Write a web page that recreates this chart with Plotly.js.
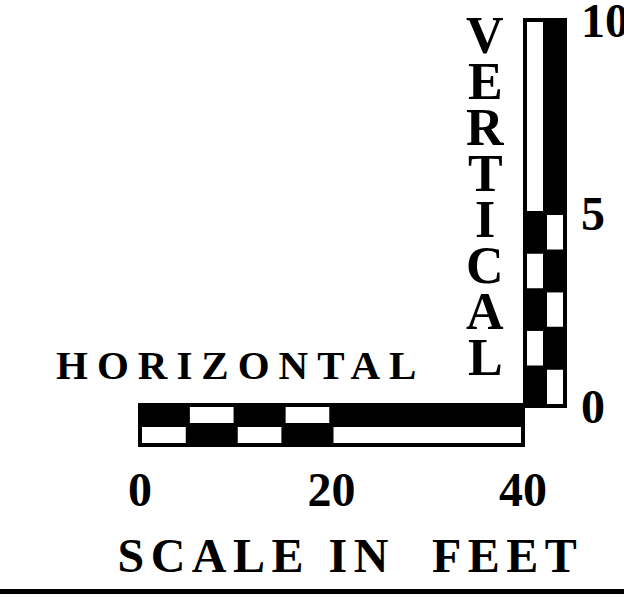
<!DOCTYPE html>
<html>
<head>
<meta charset="utf-8">
<script src="https://cdn.plot.ly/plotly-3.0.1.min.js"></script>
<style>
  html, body { margin: 0; padding: 0; background: #ffffff; }
  #chart { width: 624px; height: 600px; }
</style>
</head>
<body>
<div id="chart"></div>
<script>
// ---- Data ----
// Horizontal scale (feet)
const hStarts = [0, 5, 10, 15, 20];
const hEnds = [5, 10, 15, 20, 40];
const hTopColors = ['black', 'white', 'black', 'white', 'black'];
const hBottomColors = ['white', 'black', 'white', 'black', 'white'];
const hTickVals = [0, 20, 40];
const hTickText = ['0', '20', '40'];

// Vertical scale (feet)
const vStarts = [0, 1, 2, 3, 4, 5];
const vEnds = [1, 2, 3, 4, 5, 10];
const vLeftColors = ['black', 'white', 'black', 'white', 'black', 'white'];
const vRightColors = ['white', 'black', 'white', 'black', 'white', 'black'];
const vTickVals = [0, 5, 10];
const vTickText = ['0', '5', '10'];

// Texts
const horizontalLabel = 'HORIZONTAL';
const verticalLetters = ['V', 'E', 'R', 'T', 'I', 'C', 'A', 'L'];
const scaleTitle = 'SCALE IN\u00A0\u00A0FEET';

// ---- Layout helpers ----
const W = 624, H = 600;
const px = x => x / W;
const py = y => 1 - y / H;
const serif = 'Liberation Serif, Times New Roman, serif';
const lineStyle = { color: 'black', width: 4 };

const lengths = (s, e) => s.map((v, i) => e[i] - v);

const traces = [
  {
    type: 'bar', orientation: 'h', xaxis: 'x', yaxis: 'y',
    base: hStarts, x: lengths(hStarts, hEnds), y: hStarts.map(() => 1.5),
    width: 1, marker: { color: hTopColors, line: lineStyle },
    cliponaxis: false, hoverinfo: 'skip', showlegend: false
  },
  {
    type: 'bar', orientation: 'h', xaxis: 'x', yaxis: 'y',
    base: hStarts, x: lengths(hStarts, hEnds), y: hStarts.map(() => 0.5),
    width: 1, marker: { color: hBottomColors, line: lineStyle },
    cliponaxis: false, hoverinfo: 'skip', showlegend: false
  },
  {
    type: 'bar', orientation: 'v', xaxis: 'x2', yaxis: 'y2',
    base: vStarts, y: lengths(vStarts, vEnds), x: vStarts.map(() => 0),
    width: 1, marker: { color: vLeftColors, line: lineStyle },
    cliponaxis: false, hoverinfo: 'skip', showlegend: false
  },
  {
    type: 'bar', orientation: 'v', xaxis: 'x2', yaxis: 'y2',
    base: vStarts, y: lengths(vStarts, vEnds), x: vStarts.map(() => 1),
    width: 1, marker: { color: vRightColors, line: lineStyle },
    cliponaxis: false, hoverinfo: 'skip', showlegend: false
  }
];

const tickFont = { family: serif, size: 48, color: 'black', weight: 'bold' };

const annotations = [
  {
    text: horizontalLabel, xref: 'paper', yref: 'paper',
    x: px(240), y: py(365), xanchor: 'center', yanchor: 'middle',
    showarrow: false, font: { family: serif, size: 41, color: 'black', weight: 'bold' }
  },
  {
    text: scaleTitle, xref: 'paper', yref: 'paper',
    x: px(350), y: py(555), xanchor: 'center', yanchor: 'middle',
    showarrow: false, font: { family: serif, size: 48, color: 'black', weight: 'bold' }
  }
];
verticalLetters.forEach((ch, i) => {
  annotations.push({
    text: ch, xref: 'paper', yref: 'paper',
    x: px(485), y: py(35 + 46.1 * i), xanchor: 'center', yanchor: 'middle',
    showarrow: false, font: { family: serif, size: 52, color: 'black', weight: 'bold' }
  });
});

// pixel scales: horizontal 0..40 ft -> 140..523 px ; rows 0..2 -> 445..405 px
// vertical 0..10 ft -> 406..20 px ; columns -0.5..1.5 -> 525..565 px
// axes ranges are padded slightly so the outlines are not clipped
const hPad = 0.5, hPpu = (523 - 140) / 40;
const rPad = 0.1, rPpu = 20;
const vPad = 0.1, vPpu = (406 - 20) / 10;
const cPad = 0.1, cPpu = 20;

const layout = {
  width: W, height: H,
  margin: { l: 0, r: 0, t: 0, b: 0 },
  paper_bgcolor: 'white', plot_bgcolor: 'rgba(0,0,0,0)',
  barmode: 'overlay', bargap: 0,
  showlegend: false, hovermode: false,
  xaxis: {
    domain: [px(140 - hPad * hPpu), px(523 + hPad * hPpu)], range: [-hPad, 40 + hPad], anchor: 'y',
    tickvals: hTickVals, ticktext: hTickText, tickfont: tickFont,
    ticks: '', showgrid: false, zeroline: false, showline: false,
    ticklabelstandoff: 10, ticklabeloverflow: 'allow',
    automargin: false, fixedrange: true
  },
  yaxis: {
    domain: [py(445 + rPad * rPpu), py(405 - rPad * rPpu)], range: [-rPad, 2 + rPad], anchor: 'x',
    visible: false, fixedrange: true
  },
  xaxis2: {
    domain: [px(525 - cPad * cPpu), px(565 + cPad * cPpu)], range: [-0.5 - cPad, 1.5 + cPad], anchor: 'y2',
    visible: false, fixedrange: true
  },
  yaxis2: {
    domain: [py(406 + vPad * vPpu), py(20 - vPad * vPpu)], range: [-vPad, 10 + vPad], anchor: 'x2', side: 'right',
    tickvals: vTickVals, ticktext: vTickText, tickfont: tickFont,
    ticks: '', showgrid: false, zeroline: false, showline: false,
    ticklabelstandoff: 13, ticklabeloverflow: 'allow',
    automargin: false, fixedrange: true
  },
  annotations: annotations,
  shapes: [
    {
      type: 'line', xref: 'paper', yref: 'paper',
      x0: 0, x1: 1, y0: py(591.5), y1: py(591.5),
      line: { color: 'black', width: 5 }
    }
  ]
};

const letterSpacing = {};
letterSpacing[horizontalLabel] = 9;
letterSpacing[scaleTitle] = 6.5;

Plotly.newPlot('chart', traces, layout, { staticPlot: true, displayModeBar: false }).then(() => {
  document.querySelectorAll('.annotation-text').forEach(el => {
    const s = letterSpacing[el.textContent];
    if (s) el.style.letterSpacing = s + 'px';
  });
});
</script>
</body>
</html>
